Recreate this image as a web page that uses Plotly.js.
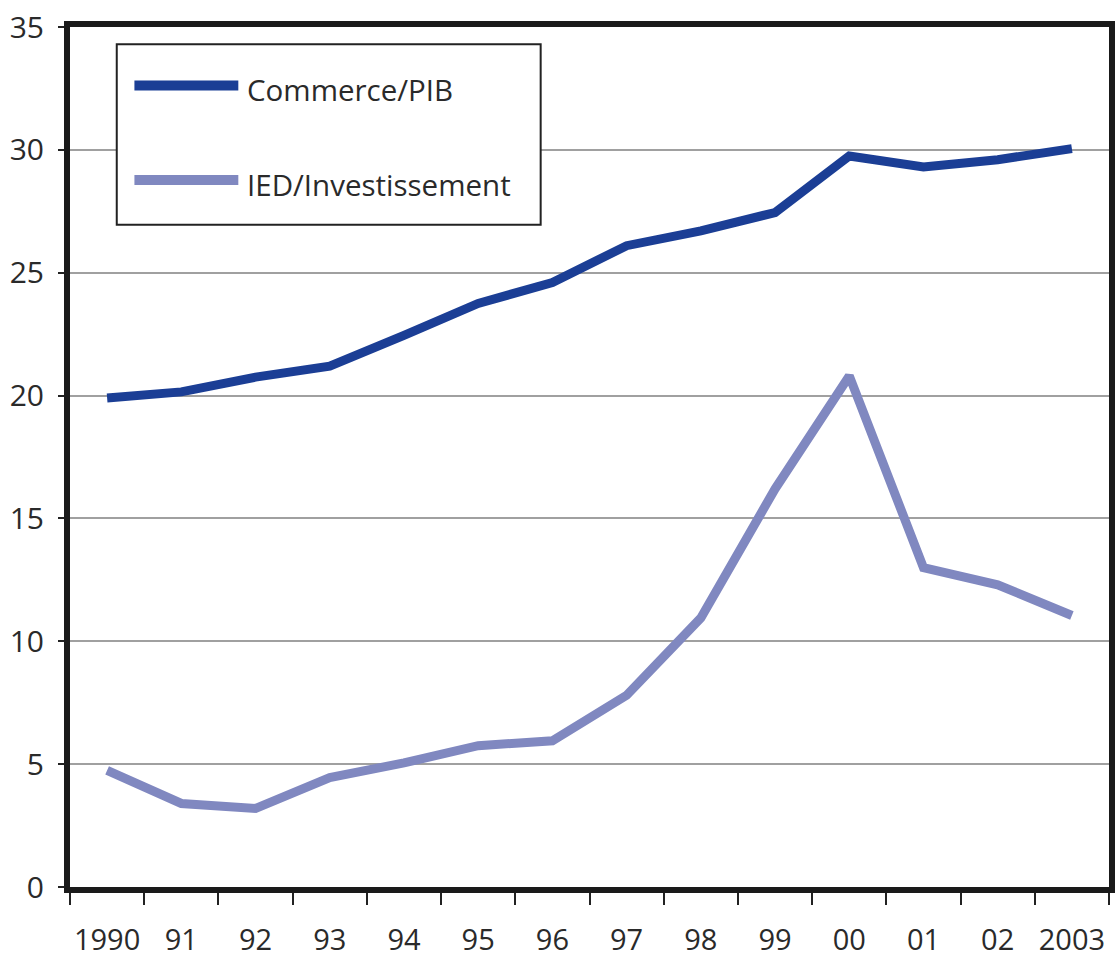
<!DOCTYPE html>
<html>
<head>
<meta charset="utf-8">
<script src="https://cdn.plot.ly/plotly-3.0.1.min.js"></script>
<style>body{margin:0;background:#fff}#chart{width:1117px;height:962px}</style>
</head>
<body>
<div id="chart"></div>
<script>
const years = ["1990","91","92","93","94","95","96","97","98","99","00","01","02","2003"];
const commercePIB = [19.9,20.15,20.75,21.2,22.45,23.75,24.6,26.1,26.7,27.45,29.75,29.3,29.6,30.05];
const iedInvestissement = [4.75,3.4,3.2,4.45,5.05,5.75,5.95,7.8,10.95,16.2,20.8,13.0,12.3,11.05];
const seriesNames = ["Commerce/PIB","IED/Investissement"];
const seriesColors = ["#1b3e95","#8088c0"];
const yTicks = [0,5,10,15,20,25,30,35];

const FONT = "Open Sans, sans-serif";
const TXT = "#2a2a2a";

const traces = [
  {x: years, y: commercePIB, name: seriesNames[0], type: "scatter", mode: "lines",
   line: {color: seriesColors[0], width: 9}},
  {x: years, y: iedInvestissement, name: seriesNames[1], type: "scatter", mode: "lines",
   line: {color: seriesColors[1], width: 9}}
];

const legendAnn = seriesNames.map((n, i) => ({
  xref: "paper", yref: "paper", x: 0.168, y: i === 0 ? 0.927 : 0.817,
  xanchor: "left", yanchor: "middle", text: n, showarrow: false,
  font: {family: FONT, size: 29.5, color: TXT}
}));
const legendShapes = [
  {type: "rect", xref: "paper", yref: "paper", x0: 0.045, x1: 0.453, y0: 0.77, y1: 0.98,
   line: {color: "#222", width: 2}, fillcolor: "rgba(255,255,255,1)", layer: "above"},
  {type: "line", xref: "paper", yref: "paper", x0: 0.062, x1: 0.162, y0: 0.932, y1: 0.932,
   line: {color: seriesColors[0], width: 10}, layer: "above"},
  {type: "line", xref: "paper", yref: "paper", x0: 0.062, x1: 0.162, y0: 0.822, y1: 0.822,
   line: {color: seriesColors[1], width: 10}, layer: "above"}
];

const layout = {
  width: 1117, height: 962,
  margin: {l: 70, r: 8, t: 27, b: 75},
  paper_bgcolor: "#fff", plot_bgcolor: "#fff",
  showlegend: false,
  font: {family: FONT, size: 29, color: TXT},
  xaxis: {
    type: "category", range: [-0.5, 13.5], tickson: "boundaries",
    ticks: "outside", ticklen: 12, tickwidth: 2, tickcolor: "#222",
    showline: true, linewidth: 6, linecolor: "#1a1a1a", mirror: true,
    showgrid: false, zeroline: false, ticklabelstandoff: 22, tickangle: 0,
    tickfont: {family: FONT, size: 29, color: TXT}
  },
  yaxis: {
    range: [0, 35], tickvals: yTicks, ticks: "outside", ticklen: 6, tickwidth: 2, tickcolor: "#222",
    showline: true, linewidth: 6, linecolor: "#1a1a1a", mirror: true,
    showgrid: true, gridcolor: "#a0a0a0", gridwidth: 2, zeroline: false,
    ticklabelstandoff: 8,
    tickfont: {family: FONT, size: 30, color: TXT}
  },
  shapes: legendShapes,
  annotations: legendAnn
};

Plotly.newPlot("chart", traces, layout, {displayModeBar: false, staticPlot: true});
</script>
</body>
</html>
